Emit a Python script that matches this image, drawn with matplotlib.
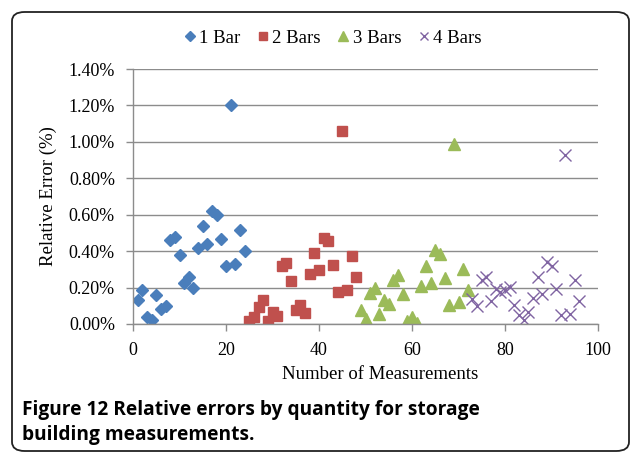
import numpy as np
import matplotlib
matplotlib.use("Agg")
import matplotlib.pyplot as plt
from matplotlib.patches import FancyBboxPatch
from matplotlib.ticker import FuncFormatter

# data (relative error in %)
x1 = list(range(1, 25))
y1 = [0.13, 0.185, 0.04, 0.02, 0.157, 0.08, 0.10, 0.46, 0.478, 0.38, 0.225, 0.258,
      0.20, 0.42, 0.537, 0.438, 0.62, 0.598, 0.467, 0.318, 1.20, 0.33, 0.515, 0.40]
x2 = list(range(25, 49))
y2 = [0.015, 0.04, 0.096, 0.13, 0.015, 0.065, 0.043, 0.317, 0.335, 0.236, 0.078, 0.106,
      0.062, 0.273, 0.39, 0.295, 0.473, 0.455, 0.322, 0.175, 1.057, 0.188, 0.374, 0.258]
x3 = list(range(49, 73))
y3 = [0.078, 0.029, 0.17, 0.197, 0.056, 0.133, 0.111, 0.243, 0.267, 0.166, 0.015, 0.041,
      0.007, 0.207, 0.318, 0.225, 0.405, 0.383, 0.255, 0.106, 0.989, 0.12, 0.304, 0.188]
x4 = list(range(73, 97))
y4 = [0.139, 0.098, 0.243, 0.258, 0.124, 0.194, 0.175, 0.185, 0.203, 0.102, 0.052, 0.023,
      0.065, 0.144, 0.258, 0.163, 0.34, 0.317, 0.194, 0.047, 0.928, 0.056, 0.24, 0.124]
labels = ["1 Bar", "2 Bars", "3 Bars", "4 Bars"]
yticks = [0, 0.2, 0.4, 0.6, 0.8, 1.0, 1.2, 1.4]

serif = "Liberation Serif"
fig = plt.figure(figsize=(6.34, 4.53), dpi=100)
ax = fig.add_axes([133/634, 1-324/453, 465/634, 255/453])

ax.plot(x1, y1, 'D', color='#4A7EBB', ms=6.5, mec='#4A7EBB', label=labels[0])
ax.plot(x2, y2, 's', color='#C0504D', ms=7.5, mec='#C0504D', label=labels[1])
ax.plot(x3, y3, '^', color='#9BBB59', ms=9, mec='#9BBB59', label=labels[2])
ax.plot(x4, y4, 'x', color='#8064A2', ms=8, mew=1.0, label=labels[3])

ax.set_xlim(0, 100)
ax.set_ylim(0, 1.4)
ax.set_xticks([0, 20, 40, 60, 80, 100])
ax.set_yticks(yticks)
ax.yaxis.set_major_formatter(FuncFormatter(lambda v, p: "%.2f%%" % v))
ax.grid(axis='y', color='#8c8c8c', lw=1.0)
ax.set_axisbelow(True)
for s in ['top', 'right']:
    ax.spines[s].set_visible(False)
for s in ['left', 'bottom']:
    ax.spines[s].set_color('#8c8c8c')
    ax.spines[s].set_linewidth(1.0)
ax.tick_params(colors='#8c8c8c', length=5, width=1.0, labelcolor='black', labelsize=13)
ax.tick_params(axis='y', pad=8)
ax.tick_params(axis='x', pad=8)
for t in ax.get_xticklabels() + ax.get_yticklabels():
    t.set_fontfamily(serif)

ax.set_xlabel("Number of Measurements", fontfamily=serif, fontsize=13.5)
ax.xaxis.set_label_coords(0.531, -0.165)
ax.set_ylabel("Relative Error (%)", fontfamily=serif, fontsize=13.5, labelpad=8)

leg = fig.legend(loc='center', bbox_to_anchor=(331/634, 1-38/453), ncol=4, frameon=False,
                 prop={'family': serif, 'size': 13.5}, handletextpad=0.0,
                 columnspacing=0.7, handlelength=1.0, borderpad=0, markerscale=0.8)

fig.text(22/634, 1-410/453, "Figure 12 Relative errors by quantity for storage",
         fontfamily="Open Sans", fontweight='bold', fontsize=13.8, va='center')
fig.text(22/634, 1-435/453, "building measurements.",
         fontfamily="Open Sans", fontweight='bold', fontsize=13.8, va='center')

box = FancyBboxPatch((12/634, 2/453), 617/634, 439/453, boxstyle="round,pad=0,rounding_size=0.02",
                     transform=fig.transFigure, fill=False, ec='#222222', lw=1.3)
fig.patches.append(box)

fig.savefig("out.png", dpi=100)
